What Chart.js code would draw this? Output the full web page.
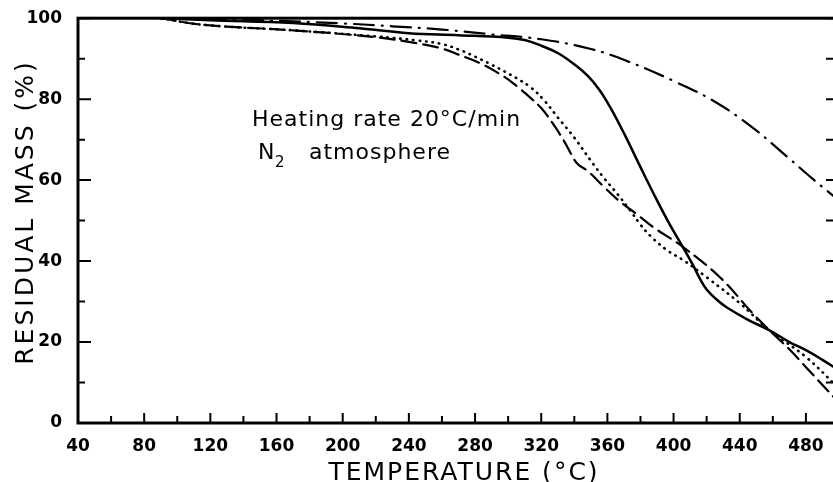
<!DOCTYPE html>
<html>
<head>
<meta charset="utf-8">
<title>Residual mass vs temperature</title>
<script src="https://cdn.jsdelivr.net/npm/chart.js@4"></script>
<style>
  html, body { margin: 0; padding: 0; background: #fff; }
  #wrap { width: 833px; height: 482px; overflow: hidden; }
</style>
</head>
<body>
<div id="wrap"><canvas id="tgaChart" width="845" height="482"></canvas></div>
<script>
// data (temperature in °C, residual mass in %)
const solidTemp = [90, 120, 170, 210, 240, 270, 300, 310, 320, 330, 340, 348, 355, 362, 370, 380, 390, 398, 406, 412, 416, 420, 426, 432, 445, 458, 470, 480, 490, 500];
const solidMass = [100, 99.5, 98.8, 97.5, 96.3, 95.8, 95.2, 94.6, 93.2, 91.4, 88.6, 85.8, 82.4, 77.8, 71.6, 63.2, 55, 48.8, 43.2, 38.8, 35.6, 33, 30.5, 28.6, 25.5, 22.9, 20, 18, 15.6, 13];

const dashDotTemp = [95, 150, 200, 230, 260, 290, 320, 350, 372, 400, 424, 448, 468, 485, 500];
const dashDotMass = [100, 99.5, 98.7, 98, 97.2, 96, 94.8, 92.4, 89.4, 84.5, 79.6, 72.9, 66, 60, 55];

const dottedTemp = [90, 115, 170, 220, 245, 260, 270, 280, 290, 305, 314, 322, 330, 340, 350, 358, 366, 374, 380, 386, 396, 406, 420, 440, 458, 480, 500];
const dottedMass = [100, 98.4, 97, 95.5, 94.5, 93.6, 92.3, 90.5, 88.5, 85.2, 82.8, 79.6, 75.5, 70.5, 64.8, 60.5, 56.6, 52.4, 49, 46.2, 42.7, 40.2, 36, 29.6, 22.9, 16.3, 8.5];

const dashedTemp = [90, 115, 170, 220, 245, 260, 270, 283, 297, 305, 313, 320, 327, 334, 338, 342, 348, 358, 367, 378, 388, 406, 428, 448, 458, 470, 480, 500];
const dashedMass = [100, 98.4, 97, 95.3, 93.8, 92.5, 91, 88.9, 85.7, 83.3, 80.5, 77.8, 74, 69.5, 66.5, 64, 62.3, 58.3, 54.9, 51.5, 48.3, 43.4, 36, 27, 22.9, 18.2, 13.8, 5];

const xTickLabels = [40, 80, 120, 160, 200, 240, 280, 320, 360, 400, 440, 480];
const yTickLabels = [0, 20, 40, 60, 80, 100];

const FONT = 'DejaVu Sans';

function toPoints(temps, masses) {
  return temps.map((t, i) => ({ x: t, y: masses[i] }));
}

function curve(temps, masses, dash, width) {
  return {
    data: toPoints(temps, masses),
    borderColor: '#000',
    borderWidth: width,
    borderDash: dash,
    borderCapStyle: 'round',
    borderJoinStyle: 'round',
    pointRadius: 0,
    fill: false,
    tension: 0.4
  };
}

// frame, inward ticks and the texts
const frameAndText = {
  id: 'frameAndText',
  afterDatasetsDraw(chart) {
    const { ctx, chartArea: a, scales: { x, y } } = chart;
    ctx.save();
    ctx.strokeStyle = '#000';
    ctx.fillStyle = '#000';
    ctx.lineCap = 'square';

    ctx.lineWidth = 3;
    ctx.strokeRect(a.left, a.top, a.right - a.left, a.bottom - a.top);

    ctx.lineWidth = 2;
    ctx.beginPath();
    x.ticks.forEach(t => {
      const px = x.getPixelForValue(t.value);
      const len = xTickLabels.includes(t.value) ? 9 : 6;
      ctx.moveTo(px, a.bottom);
      ctx.lineTo(px, a.bottom - len);
    });
    y.ticks.forEach(t => {
      const py = y.getPixelForValue(t.value);
      const len = yTickLabels.includes(t.value) ? 12 : 6;
      ctx.moveTo(a.left, py);
      ctx.lineTo(a.left + len, py);
      ctx.moveTo(a.right, py);
      ctx.lineTo(a.right - 12, py);
    });
    ctx.stroke();

    // axis titles
    ctx.textBaseline = 'alphabetic';
    ctx.font = '25px "' + FONT + '"';
    ctx.textAlign = 'center';
    ctx.letterSpacing = '2px';
    ctx.fillText('TEMPERATURE (°C)', 464, 480);

    ctx.save();
    ctx.translate(33, 212);
    ctx.rotate(-Math.PI / 2);
    ctx.letterSpacing = '3px';
    ctx.fillText('RESIDUAL MASS (%)', 0, 0);
    ctx.restore();

    // annotation
    ctx.textAlign = 'left';
    ctx.font = '22px "' + FONT + '"';
    ctx.letterSpacing = '1px';
    ctx.fillText('Heating rate 20°C/min', 252, 126);
    ctx.fillText('N', 258, 159);
    ctx.fillText('atmosphere', 309, 159);
    ctx.font = '15px "' + FONT + '"';
    ctx.fillText('2', 275, 167);
    ctx.restore();
  }
};

const ctx = document.getElementById('tgaChart').getContext('2d');
const tgaChart = new Chart(ctx, {
  type: 'line',
  data: {
    datasets: [
      curve(solidTemp, solidMass, [], 2.5),
      curve(dashDotTemp, dashDotMass, [20, 8, 1, 8], 2.2),
      curve(dottedTemp, dottedMass, [0.5, 6], 2.6),
      curve(dashedTemp, dashedMass, [15, 7], 2.2)
    ]
  },
  options: {
    responsive: false,
    animation: false,
    devicePixelRatio: 1,
    layout: { padding: { top: 17, right: 6, bottom: 0, left: 0 } },
    plugins: {
      legend: { display: false },
      tooltip: { enabled: false }
    },
    scales: {
      x: {
        type: 'linear',
        min: 40,
        max: 500,
        grid: { display: false },
        border: { display: false },
        ticks: {
          stepSize: 20,
          autoSkip: false,
          maxRotation: 0,
          padding: 5,
          color: '#000',
          font: { family: FONT, size: 17, weight: 'bold' },
          callback: v => xTickLabels.includes(v) ? String(v) : ''
        },
        afterFit: s => { s.height = 59; }
      },
      y: {
        min: 0,
        max: 100,
        grid: { display: false },
        border: { display: false },
        ticks: {
          stepSize: 10,
          autoSkip: false,
          padding: 8,
          color: '#000',
          font: { family: FONT, size: 17, weight: 'bold' },
          callback: v => yTickLabels.includes(v) ? String(v) : ''
        },
        afterFit: s => { s.width = 78; }
      }
    }
  },
  plugins: [frameAndText]
});
</script>
</body>
</html>
